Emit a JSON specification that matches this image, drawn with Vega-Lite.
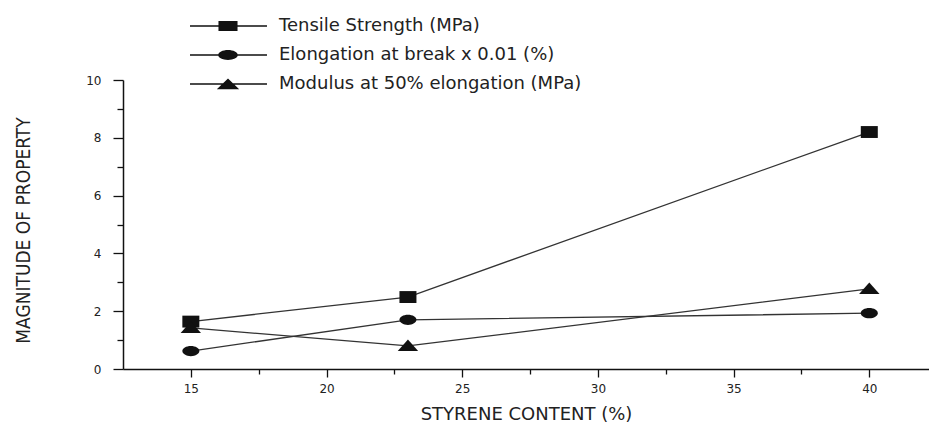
{
  "$schema": "https://vega.github.io/schema/vega-lite/v6.json",
  "width": 806,
  "height": 289,
  "autosize": {"type": "none"},
  "padding": {"left": 123, "top": 80, "right": 0, "bottom": 54},
  "background": "white",
  "config": {
    "view": {"stroke": null},
    "axis": {
      "grid": false,
      "domainColor": "#111",
      "domainWidth": 1.5,
      "tickColor": "#111",
      "tickWidth": 1.3,
      "labelFont": "DejaVu Sans",
      "labelFontSize": 12,
      "labelColor": "#222",
      "titleFont": "DejaVu Sans",
      "titleFontWeight": "normal",
      "titleColor": "#222"
    },
    "legend": {"padding": 0}
  },
  "data": {
    "values": [
      {"series": "Tensile Strength (MPa)", "styrene": 15, "value": 1.64},
      {"series": "Tensile Strength (MPa)", "styrene": 23, "value": 2.49},
      {"series": "Tensile Strength (MPa)", "styrene": 40, "value": 8.2},
      {"series": "Elongation at break x 0.01 (%)", "styrene": 15, "value": 0.62},
      {"series": "Elongation at break x 0.01 (%)", "styrene": 23, "value": 1.7},
      {"series": "Elongation at break x 0.01 (%)", "styrene": 40, "value": 1.93},
      {"series": "Modulus at 50% elongation (MPa)", "styrene": 15, "value": 1.42},
      {"series": "Modulus at 50% elongation (MPa)", "styrene": 23, "value": 0.8},
      {"series": "Modulus at 50% elongation (MPa)", "styrene": 40, "value": 2.77}
    ]
  },
  "encoding": {
    "x": {
      "field": "styrene",
      "type": "quantitative",
      "scale": {"domain": [12.5, 42.2], "nice": false, "zero": false},
      "axis": {
        "title": "STYRENE CONTENT (%)",
        "titleFontSize": 18,
        "titleX": 403,
        "titleY": 45,
        "titleAlign": "center",
        "titleBaseline": "middle",
        "values": [15, 17.5, 20, 22.5, 25, 27.5, 30, 32.5, 35, 37.5, 40],
        "labelExpr": "datum.value % 5 === 0 ? datum.label : ''",
        "tickSize": {"condition": {"test": "datum.value % 5 === 0", "value": 8}, "value": 5},
        "labelPadding": 6
      }
    },
    "y": {
      "field": "value",
      "type": "quantitative",
      "scale": {"domain": [0, 10], "nice": false},
      "axis": {
        "title": "MAGNITUDE OF PROPERTY",
        "titleFont": "DejaVu Sans Condensed",
        "titleFontSize": 19,
        "titleAngle": -90,
        "titleX": -100,
        "titleY": 150,
        "titleAlign": "center",
        "titleBaseline": "middle",
        "values": [0, 1, 2, 3, 4, 5, 6, 7, 8, 9, 10],
        "labelExpr": "datum.value % 2 === 0 ? datum.label : ''",
        "tickSize": {"condition": {"test": "datum.value % 2 === 0", "value": 10}, "value": 6},
        "labelPadding": 12
      }
    }
  },
  "layer": [
    {
      "mark": {"type": "line", "color": "#333", "strokeWidth": 1.3},
      "encoding": {"detail": {"field": "series"}}
    },
    {
      "mark": {"type": "point", "filled": true, "color": "#111", "opacity": 1, "size": 289},
      "encoding": {
        "shape": {
          "field": "series",
          "scale": {
            "domain": ["Tensile Strength (MPa)", "Elongation at break x 0.01 (%)", "Modulus at 50% elongation (MPa)"],
            "range": [
              "M-1,-0.7H1V0.7H-1Z",
              "M-1,0A1,0.6,0,1,1,1,0A1,0.6,0,1,1,-1,0Z",
              "M-1.2,0.6L0,-0.75L1.2,0.6Z"
            ]
          },
          "legend": null
        }
      }
    },
    {
      "mark": {"type": "point", "filled": true, "color": "#111", "opacity": 0},
      "encoding": {
        "shape": {
          "field": "series",
          "scale": {
            "domain": ["Tensile Strength (MPa)", "Elongation at break x 0.01 (%)", "Modulus at 50% elongation (MPa)"],
            "range": [
              "M-5.43,-0.09H5.57V0.09H-5.43ZM-1.36,-0.71H1.36V0.71H-1.36Z",
              "M-5.43,-0.09H5.57V0.09H-5.43ZM-1.4,0A1.4,0.7,0,1,1,1.4,0A1.4,0.7,0,1,1,-1.4,0Z",
              "M-5.43,-0.09H5.57V0.09H-5.43ZM-1.6,0.75L0,-0.8L1.6,0.75Z"
            ]
          },
          "legend": {
            "title": null,
            "orient": "none",
            "legendX": 96,
            "legendY": -63,
            "symbolSize": 196,
            "symbolFillColor": "#111",
            "symbolStrokeColor": "#111",
            "symbolStrokeWidth": 0,
            "symbolOpacity": 1,
            "labelFont": "DejaVu Sans",
            "labelFontSize": 18,
            "labelColor": "#222",
            "labelOffset": 42,
            "labelLimit": 600,
            "rowPadding": 11
          }
        }
      }
    }
  ],
  "resolve": {"scale": {"shape": "independent"}}
}
